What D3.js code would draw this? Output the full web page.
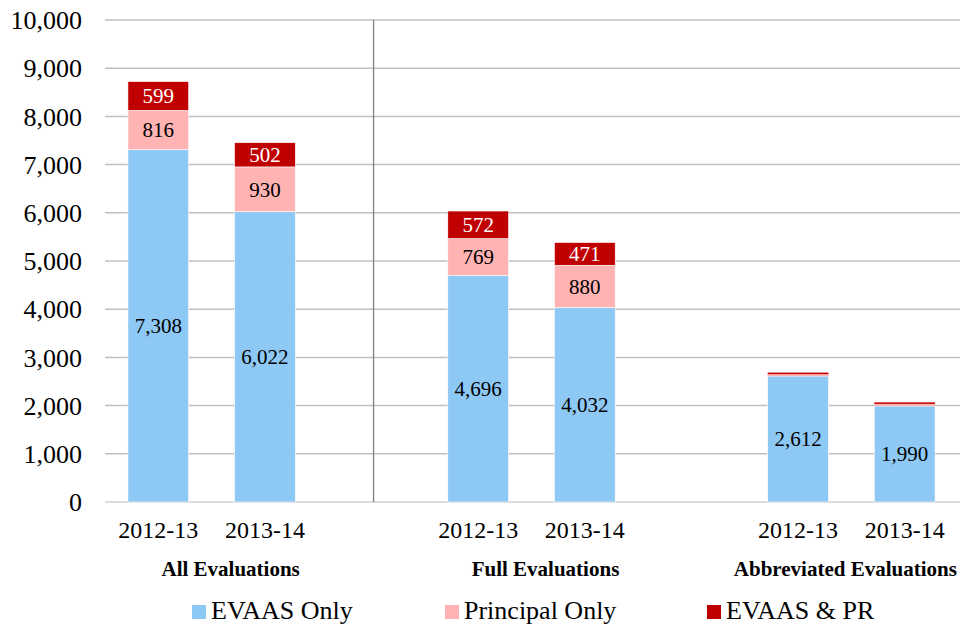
<!DOCTYPE html>
<html>
<head>
<meta charset="utf-8">
<script src="https://cdn.jsdelivr.net/npm/d3@7"></script>
</head>
<body style="margin:0;background:#fff">
<div id="chartbox"></div>
<script>
// data
var groups = ["All Evaluations", "Full Evaluations", "Abbreviated Evaluations"];
var years = ["2012-13", "2013-14"];
var evaasOnly = [7308, 6022, 4696, 4032, 2612, 1990];
var principalOnly = [816, 930, 769, 880, 40, 45];
var evaasPR = [599, 502, 572, 471, 33, 32];
var seriesNames = ["EVAAS Only", "Principal Only", "EVAAS & PR"];
var yTicks = [0, 1000, 2000, 3000, 4000, 5000, 6000, 7000, 8000, 9000, 10000];

var colors = ["#8ec8f4", "#ffb3b3", "#c00000"];
var labelColors = ["#000", "#000", "#fff"];

const width = 962, height = 626;
var margin = {top: 20, right: 4, bottom: 124, left: 105};
var FONT = "'Liberation Serif'";

var svg = d3.select('#chartbox').append('svg')
  .attr('width', width).attr('height', height);

// 8 slots: two bars per group, one empty slot between groups
var x = d3.scaleBand().domain(d3.range(8))
  .range([margin.left, width - margin.right])
  .paddingInner(0.43).paddingOuter(0.215);
var y = d3.scaleLinear().domain([0, 10000]).range([height - margin.bottom, margin.top]);

// rows: one per bar
var rows = [];
groups.forEach(function(g, gi) {
  years.forEach(function(yr, yi) {
    var k = gi * 2 + yi;
    rows.push({slot: gi * 3 + yi, group: g, year: yr,
      s0: evaasOnly[k], s1: principalOnly[k], s2: evaasPR[k]});
  });
});
var stack = d3.stack().keys(["s0", "s1", "s2"])(rows);

// gridlines + tick labels
svg.append('g').selectAll('line').data(yTicks).join('line')
  .attr('x1', margin.left).attr('x2', width - 2)
  .attr('y1', d => y(d)).attr('y2', d => y(d))
  .attr('stroke', d => d === 0 ? '#d0d0d0' : '#c0c0c0').attr('stroke-width', 1.5);
svg.append('g').selectAll('text').data(yTicks).join('text')
  .attr('x', 82).attr('y', d => y(d)).attr('dy', '0.35em')
  .attr('text-anchor', 'end').attr('font-size', 26).attr('fill', '#000')
  .style('font-family', FONT)
  .text(d => d3.format(',')(d));

// separator between All and the rest
var sepX = x(2) + x.bandwidth() / 2 + 2;
svg.append('line').attr('x1', sepX).attr('x2', sepX)
  .attr('y1', y(10000)).attr('y2', y(0))
  .attr('stroke', '#808080').attr('stroke-width', 1.3);

// bars
var layers = svg.append('g').selectAll('g').data(stack).join('g')
  .attr('fill', (d, i) => colors[i]);
layers.selectAll('rect').data(d => d).join('rect')
  .attr('x', d => x(d.data.slot))
  .attr('width', x.bandwidth())
  .attr('y', d => y(d[1]))
  .attr('height', d => y(d[0]) - y(d[1]))
  .attr('stroke', '#fff').attr('stroke-width', d => d[1] - d[0] > 100 ? 0.6 : 0);

// value labels
stack.forEach(function(layer, li) {
  svg.append('g').selectAll('text').data(layer.filter(d => d[1] - d[0] > 100)).join('text')
    .attr('x', d => x(d.data.slot) + x.bandwidth() / 2)
    .attr('y', d => (y(d[0]) + y(d[1])) / 2)
    .attr('dy', '0.35em').attr('text-anchor', 'middle')
    .attr('font-size', 21).attr('fill', labelColors[li])
    .style('font-family', FONT)
    .text(d => d3.format(',')(d[1] - d[0]));
});

// category labels
svg.append('g').selectAll('text').data(rows).join('text')
  .attr('x', d => x(d.slot) + x.bandwidth() / 2)
  .attr('y', 538).attr('text-anchor', 'middle')
  .attr('font-size', 24).attr('fill', '#000')
  .style('font-family', FONT)
  .text(d => d.year);

// group labels
var groupDx = [19, 14, -6];
svg.append('g').selectAll('text').data(groups).join('text')
  .attr('x', (d, i) => (x(i * 3) + x(i * 3 + 1) + x.bandwidth()) / 2 + groupDx[i])
  .attr('y', 576).attr('text-anchor', 'middle')
  .attr('font-size', 21).attr('font-weight', 'bold').attr('fill', '#000')
  .style('font-family', FONT)
  .text(d => d);

// legend
var legendX = [192, 445, 707];
var legend = svg.append('g').selectAll('g').data(seriesNames).join('g')
  .attr('transform', (d, i) => 'translate(' + legendX[i] + ',0)');
legend.append('rect').attr('x', 0).attr('y', 605).attr('width', 14).attr('height', 14)
  .attr('fill', (d, i) => colors[i]);
legend.append('text').attr('x', 19).attr('y', 619)
  .attr('font-size', 26).attr('fill', '#000')
  .style('font-family', FONT)
  .text(d => d);
</script>
</body>
</html>
